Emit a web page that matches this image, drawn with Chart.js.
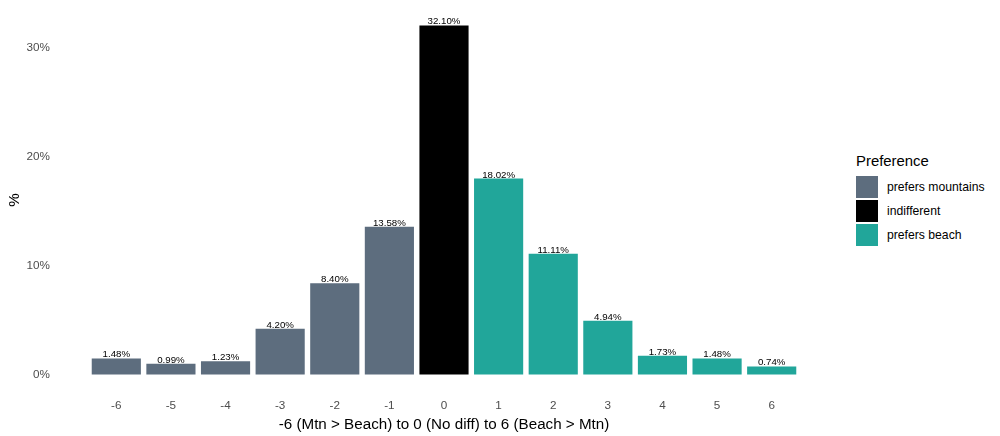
<!DOCTYPE html>
<html>
<head>
<meta charset="utf-8">
<script src="https://cdn.jsdelivr.net/npm/chart.js@4/dist/chart.umd.min.js"></script>
<style>
  body { margin: 0; background: #fff; font-family: "Liberation Sans", Arial, sans-serif; }
  #wrap { position: relative; width: 1000px; height: 436px; }
  #chart { position: absolute; left: 0; top: 0; }
  #legend { position: absolute; left: 856px; top: 150px; }
  #legend .title { font-size: 14.9px; color: #000; height: 22px; line-height: 22px; margin-bottom: 3px; }
  #legend .item { display: flex; align-items: center; height: 24px; }
  #legend .box { width: 22px; height: 22px; margin-right: 9px; }
  #legend .lbl { font-size: 12.2px; color: #000; }
</style>
</head>
<body>
<div id="wrap">
  <canvas id="chart" width="830" height="436"></canvas>
  <div id="legend"></div>
</div>
<script>
const categories = ['-6', '-5', '-4', '-3', '-2', '-1', '0', '1', '2', '3', '4', '5', '6'];
const percents = [1.48, 0.99, 1.23, 4.20, 8.40, 13.58, 32.10, 18.02, 11.11, 4.94, 1.73, 1.48, 0.74];
const groups = ['prefers mountains', 'prefers mountains', 'prefers mountains', 'prefers mountains',
  'prefers mountains', 'prefers mountains', 'indifferent', 'prefers beach', 'prefers beach',
  'prefers beach', 'prefers beach', 'prefers beach', 'prefers beach'];
const groupNames = ['prefers mountains', 'indifferent', 'prefers beach'];
const groupColors = { 'prefers mountains': '#5d6d7e', 'indifferent': '#000000', 'prefers beach': '#21a69a' };
const yTicks = [0, 10, 20, 30];

const FONT = '"Liberation Sans", Arial, sans-serif';

// labels above bars, like geom_text
const barLabels = {
  id: 'barLabels',
  afterDatasetsDraw(chart) {
    const ctx = chart.ctx;
    const meta = chart.getDatasetMeta(0);
    ctx.save();
    ctx.font = '9.7px ' + FONT;
    ctx.fillStyle = '#000';
    ctx.textAlign = 'center';
    ctx.textBaseline = 'alphabetic';
    meta.data.forEach((bar, i) => {
      ctx.fillText(percents[i].toFixed(2) + '%', bar.x, bar.y - 1);
    });
    ctx.restore();
  }
};

new Chart(document.getElementById('chart').getContext('2d'), {
  type: 'bar',
  data: {
    labels: categories,
    datasets: [{
      data: percents,
      backgroundColor: groups.map(g => groupColors[g]),
      barPercentage: 0.9,
      categoryPercentage: 1.0
    }]
  },
  options: {
    responsive: false,
    animation: false,
    layout: { padding: { top: 8, right: 31, left: 0, bottom: 0 } },
    plugins: { legend: { display: false }, tooltip: { enabled: false } },
    scales: {
      x: {
        grid: { display: false, drawTicks: false },
        border: { display: false },
        ticks: { color: '#4d4d4d', font: { family: FONT, size: 11.7 }, padding: 7 },
        title: {
          display: true,
          text: '-6 (Mtn > Beach) to 0 (No diff) to 6 (Beach > Mtn)',
          color: '#000',
          font: { family: FONT, size: 15.2 },
          padding: { top: 0, bottom: 2 }
        },
        afterFit(scale) {
          scale.height = 44;
          scale.paddingLeft = 0;
          scale.paddingRight = 0;
        }
      },
      y: {
        min: -1.605,
        max: 33.7,
        grid: { display: false, drawTicks: false },
        border: { display: false },
        ticks: {
          color: '#4d4d4d',
          font: { family: FONT, size: 11.7 },
          padding: 39,
          callback: v => v + '%'
        },
        afterBuildTicks(scale) { scale.ticks = yTicks.map(v => ({ value: v })); },
        title: {
          display: true,
          text: '%',
          color: '#000',
          font: { family: FONT, size: 15.2 },
          padding: { top: 6, bottom: 0 }
        },
        afterFit(scale) {
          // tick padding also pads top/bottom; drop that
          scale.width = 89;
          scale.paddingTop = 0;
          scale.paddingBottom = 0;
        }
      }
    }
  },
  plugins: [barLabels]
});

// legend on the right, ggplot style
const legend = document.getElementById('legend');
let html = '<div class="title">Preference</div>';
groupNames.forEach(g => {
  html += '<div class="item"><div class="box" style="background:' + groupColors[g] + '"></div><span class="lbl">' + g + '</span></div>';
});
legend.innerHTML = html;
</script>
</body>
</html>
